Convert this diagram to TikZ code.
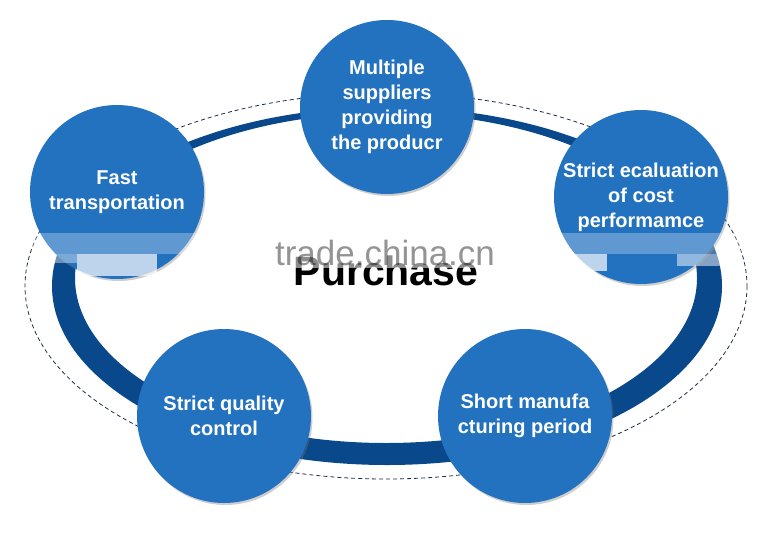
\documentclass[tikz,border=0pt]{standalone}
\usepackage{fontspec}
\setmainfont{Liberation Sans}
\usetikzlibrary{shadows}
\definecolor{circblue}{RGB}{35,114,192}
\definecolor{ringblue}{RGB}{10,72,140}
\definecolor{dashcol}{RGB}{30,45,70}
\begin{document}
\begin{tikzpicture}[x=1pt,y=-1pt,
  bubble/.style={circle, fill=circblue, minimum size=174pt, inner sep=0pt, align=center, text=white,
    font=\bfseries\fontsize{20}{25}\selectfont,
    drop shadow={shadow xshift=1.5pt, shadow yshift=-2pt, opacity=0.35, fill=black!55}},
  wmtext/.style={text=black, opacity=0.42, font=\fontsize{35}{35}\selectfont, anchor=base, inner sep=0pt},
  bigtitle/.style={font=\bfseries\fontsize{41}{41}\selectfont, anchor=base, inner sep=0pt}]
\useasboundingbox (0,0) rectangle (770,533);
\fill[white] (0,0) rectangle (770,533);
% dashed outer ellipse
\draw[dashcol, line width=0.8pt, dash pattern=on 4pt off 3pt] (386,286) ellipse [x radius=361, y radius=193];
% thick ring
\fill[ringblue, even odd rule] (387,286) ellipse [x radius=335, y radius=179] (386,278) ellipse [x radius=311, y radius=165];
% bubbles
\node[bubble] (top) at (387,107) {Multiple\\suppliers\\providing\\the producr};
\node[bubble] (fast) at (117,192) {Fast\\transportation};
\node[bubble] (eval) at (641,197) {Strict ecaluation\\of cost\\performamce};
\node[bubble] (qual) at (224,416) {Strict quality\\control};
\node[bubble] (short) at (525,416) {Short manufa\\cturing period};
% centre title
\node[bigtitle] (purchase) at (386,285) {Purchase};
% watermark band
\fill[white, opacity=0.28] (32,233) rectangle (765,254);
\fill[white, opacity=0.55] (288,250) rectangle (484,268);
\fill[white, opacity=0.7] (77,254) rectangle (157,276);
\fill[white, opacity=0.4] (50,254) rectangle (77,263);
\fill[white, opacity=0.7] (562,254) rectangle (607,271);
\fill[white, opacity=0.5] (677,254) rectangle (724,266);
\node[wmtext] (wm) at (385,265) {trade.china.cn};
\end{tikzpicture}
\end{document}
